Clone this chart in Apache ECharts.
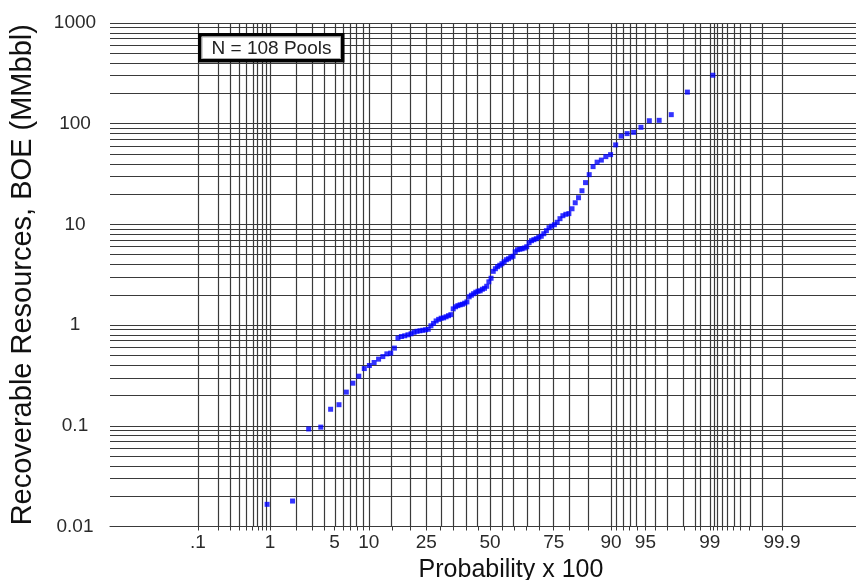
<!DOCTYPE html>
<html>
<head>
<meta charset="utf-8">
<title>Pool size probability plot</title>
<script src="https://cdn.jsdelivr.net/npm/echarts@6/dist/echarts.min.js"></script>
<style>
html,body{margin:0;padding:0;background:#fff;}
#chart{width:856px;height:580px;}
</style>
</head>
<body>
<div id="chart"></div>
<script>
// recoverable resources of the 108 pools, sorted small -> large (MMbbl BOE)
var poolSizes = [
  0.0166, 0.0179, 0.093, 0.097, 0.146, 0.162, 0.216, 0.265, 0.311, 0.370,
  0.397, 0.425, 0.459, 0.487, 0.518, 0.527, 0.591, 0.743, 0.770, 0.783,
  0.801, 0.820, 0.848, 0.868, 0.878, 0.888, 0.898, 0.909, 0.984, 1.04,
  1.10, 1.14, 1.17, 1.18, 1.21, 1.24, 1.27, 1.45, 1.52, 1.56,
  1.59, 1.61, 1.65, 1.70, 1.91, 1.98, 2.05, 2.12, 2.17, 2.19,
  2.27, 2.32, 2.43, 2.69, 2.92, 3.42, 3.63, 3.80, 3.93, 4.07,
  4.26, 4.46, 4.56, 4.72, 4.83, 5.35, 5.60, 5.67, 5.73, 5.83,
  6.00, 6.58, 6.89, 7.05, 7.21, 7.46, 7.63, 8.08, 8.66, 9.27,
  9.60, 9.93, 10.5, 11.4, 12.2, 12.6, 12.8, 14.3, 16.4, 18.4,
  21.6, 26.0, 31.2, 37.5, 41.5, 43.5, 47.1, 49.3, 61.6, 75.3,
  79.7, 82.1, 92.1, 107, 108, 123, 206, 303
];

// probability axis (percent): labelled values and grid lines
var probLabels = [0.1, 1, 5, 10, 25, 50, 75, 90, 95, 99, 99.9];
var probLabelText = ['.1', '1', '5', '10', '25', '50', '75', '90', '95', '99', '99.9'];
var probGrid = [
  0.1, 0.2, 0.3, 0.4, 0.5, 0.6, 0.7, 0.8, 0.9, 1,
  2, 3, 4, 5, 6, 7, 8, 9, 10,
  15, 20, 25, 30, 35, 40, 45, 50, 55, 60, 65, 70, 75, 80, 85,
  90, 91, 92, 93, 94, 95, 96, 97, 98, 98.5, 98.7,
  99, 99.1, 99.2, 99.3, 99.4, 99.5, 99.6, 99.7, 99.8, 99.9
];
// log axis: grid at 1..9 in every decade
var decades = [0.01, 0.1, 1, 10, 100];
var mantissas = [1, 2, 3, 4, 5, 6, 7, 8, 9];
var yMin = 0.01, yMax = 1000;

// inverse normal cdf (Acklam) -> normal probability paper
function probit(p) {
  var a = [-3.969683028665376e+01, 2.209460984245205e+02, -2.759285104469687e+02, 1.383577518672690e+02, -3.066479806614716e+01, 2.506628277459239e+00];
  var b = [-5.447609879822406e+01, 1.615858368580409e+02, -1.556989798598866e+02, 6.680131188771972e+01, -1.328068155288572e+01];
  var c = [-7.784894002430293e-03, -3.223964580411365e-01, -2.400758277161838e+00, -2.549732539343734e+00, 4.374664141464968e+00, 2.938163982698783e+00];
  var d = [7.784695709041462e-03, 3.224671290700398e-01, 2.445134137142996e+00, 3.754408661907416e+00];
  var pl = 0.02425, q, r;
  if (p < pl) {
    q = Math.sqrt(-2 * Math.log(p));
    return (((((c[0]*q+c[1])*q+c[2])*q+c[3])*q+c[4])*q+c[5]) / ((((d[0]*q+d[1])*q+d[2])*q+d[3])*q+1);
  }
  if (p > 1 - pl) {
    q = Math.sqrt(-2 * Math.log(1 - p));
    return -(((((c[0]*q+c[1])*q+c[2])*q+c[3])*q+c[4])*q+c[5]) / ((((d[0]*q+d[1])*q+d[2])*q+d[3])*q+1);
  }
  q = p - 0.5; r = q * q;
  return (((((a[0]*r+a[1])*r+a[2])*r+a[3])*r+a[4])*r+a[5])*q / (((((b[0]*r+b[1])*r+b[2])*r+b[3])*r+b[4])*r+1);
}

// plotting position i/(n+1) for each ranked pool
var n = poolSizes.length;
var points = poolSizes.map(function (v, i) {
  return [probit((i + 1) / (n + 1)), v];
});

var labelZ = probLabels.map(function (p) { return probit(p / 100); });
var gridZ = probGrid.map(function (p) { return probit(p / 100); });

var gridLines = gridZ.map(function (z) { return { xAxis: z }; });
decades.forEach(function (d) {
  mantissas.forEach(function (m) {
    gridLines.push({ yAxis: +(m * d).toPrecision(3) });
  });
});
gridLines.push({ yAxis: yMax });

var font = 'Liberation Sans, Arial, Helvetica, sans-serif';

var myChart = echarts.init(document.getElementById('chart'));
var option = {
  animation: false,
  backgroundColor: '#fff',
  // the plot runs past the right edge of the picture
  grid: { left: 110, top: 23, width: 802, height: 503.5, outerBoundsMode: 'none', containLabel: false },
  xAxis: {
    type: 'value',
    min: -4.021,
    max: 4.466,
    name: 'Probability x 100',
    nameLocation: 'middle',
    nameGap: 30,
    nameTextStyle: { fontFamily: font, fontSize: 25, color: '#111' },
    axisLine: { show: true, onZero: false, lineStyle: { color: '#333', width: 1 } },
    axisTick: { show: true, customValues: gridZ, length: 4, lineStyle: { color: '#3a3a3a' } },
    splitLine: { show: false },
    axisLabel: {
      customValues: labelZ,
      margin: 7,
      fontFamily: font,
      fontSize: 19,
      color: '#2a2a2a',
      formatter: function (v) {
        var best = 0;
        for (var i = 1; i < labelZ.length; i++) {
          if (Math.abs(labelZ[i] - v) < Math.abs(labelZ[best] - v)) best = i;
        }
        return probLabelText[best];
      }
    }
  },
  yAxis: {
    type: 'log',
    logBase: 10,
    min: yMin,
    max: yMax,
    name: 'Recoverable Resources, BOE (MMbbl)',
    nameLocation: 'middle',
    nameGap: 73,
    nameTextStyle: { fontFamily: font, fontSize: 29, color: '#111' },
    axisLine: { show: true, lineStyle: { color: '#333', width: 1 } },
    axisTick: { show: true, length: 4, lineStyle: { color: '#3a3a3a' } },
    splitLine: { show: false },
    axisLabel: {
      align: 'center',
      margin: 35,
      fontFamily: font,
      fontSize: 19,
      color: '#2a2a2a',
      formatter: function (v) { return String(+(+v).toPrecision(3)); }
    }
  },
  // "N = 108 Pools" box, drawn over the grid
  graphic: [{
    type: 'group',
    left: 198,
    top: 33,
    z: 100,
    children: [
      { type: 'rect', z: 100, shape: { x: 1.75, y: 1.75, width: 143, height: 26 },
        style: { fill: '#fff', stroke: '#000', lineWidth: 3.5 } },
      { type: 'rect', z: 101, shape: { x: 4, y: 4, width: 138.5, height: 21.5 },
        style: { fill: 'none', stroke: '#aaa', lineWidth: 1 } },
      { type: 'text', z: 102, x: 73.5, y: 15.5,
        style: { text: 'N = 108 Pools', fontFamily: font, fontSize: 19, fill: '#222',
                 align: 'center', verticalAlign: 'middle' } }
    ]
  }],
  series: [
    {
      // probability paper grid
      type: 'line',
      data: [],
      z: 1,
      silent: true,
      markLine: {
        silent: true,
        symbol: 'none',
        label: { show: false },
        emphasis: { disabled: true },
        lineStyle: { color: '#3a3a3a', width: 1.2, type: 'solid' },
        data: gridLines
      }
    },
    {
      name: 'Pools',
      type: 'scatter',
      z: 5,
      symbol: 'rect',
      symbolSize: 5,
      itemStyle: { color: '#0000ff' },
      data: points
    }
  ]
};
myChart.setOption(option);
window.addEventListener('resize', function () { myChart.resize(); });
</script>
</body>
</html>
